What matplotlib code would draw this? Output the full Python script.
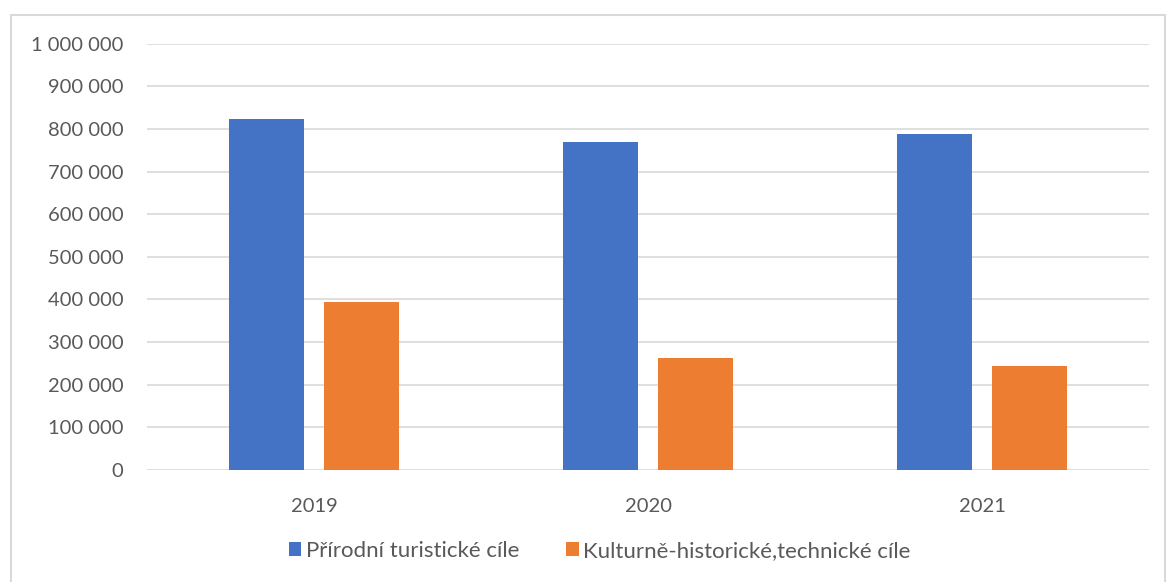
import matplotlib
matplotlib.use("Agg")
import matplotlib.pyplot as plt
from matplotlib.patches import Rectangle
import numpy as np

years = ["2019", "2020", "2021"]
prirodni = [823000, 769000, 789000]
kulturni = [395000, 262000, 244000]
series_names = ["Přírodní turistické cíle", "Kulturně-historické,technické cíle"]
yticks = [0, 100000, 200000, 300000, 400000, 500000, 600000, 700000, 800000, 900000, 1000000]

def fmt(v):
    return f"{v:,}".replace(",", " ")

plt.rcParams['font.family'] = ['Lato', 'DejaVu Sans']

fig = plt.figure(figsize=(11.7, 5.82), dpi=100)
fig.patches.append(Rectangle((11/1170, -0.1), (1165-11)/1170, 1.1 - 15/582,
                             transform=fig.transFigure, fill=False,
                             edgecolor="#d9d9d9", linewidth=1.5))
ax = fig.add_axes([147/1170, (582-470)/582, (1149-147)/1170, (470-43.7)/582])

x = np.arange(len(years))
w = 0.2246
off = w/2 + 0.03
b1 = ax.bar(x - off, prirodni, w, color="#4472c4", label=series_names[0], zorder=3)
b2 = ax.bar(x + off, kulturni, w, color="#ed7d31", label=series_names[1], zorder=3)

ax.set_xlim(-0.5, 2.5)
ax.set_ylim(0, 1000000)
ax.set_yticks(yticks)
ax.set_yticklabels([fmt(v) for v in yticks], fontsize=14.5, color="#595959")
ax.set_xticks(x)
ax.set_xticklabels(years, fontsize=14.5, color="#595959")
ax.tick_params(axis='y', length=0, pad=17)
ax.tick_params(axis='x', length=0, pad=20)
ax.grid(axis='y', color="#d9d9d9", linewidth=1.2, zorder=0)
for s in ax.spines.values():
    s.set_visible(False)

fig.legend(handles=[b1, b2], labels=series_names, loc="center",
           bbox_to_anchor=(600/1170, (582-551)/582), ncol=2, frameon=False,
           fontsize=16, handlelength=0.55, handleheight=0.55, handletextpad=0.22,
           columnspacing=2.1, labelcolor="#595959")

fig.savefig("out.png", dpi=100)
